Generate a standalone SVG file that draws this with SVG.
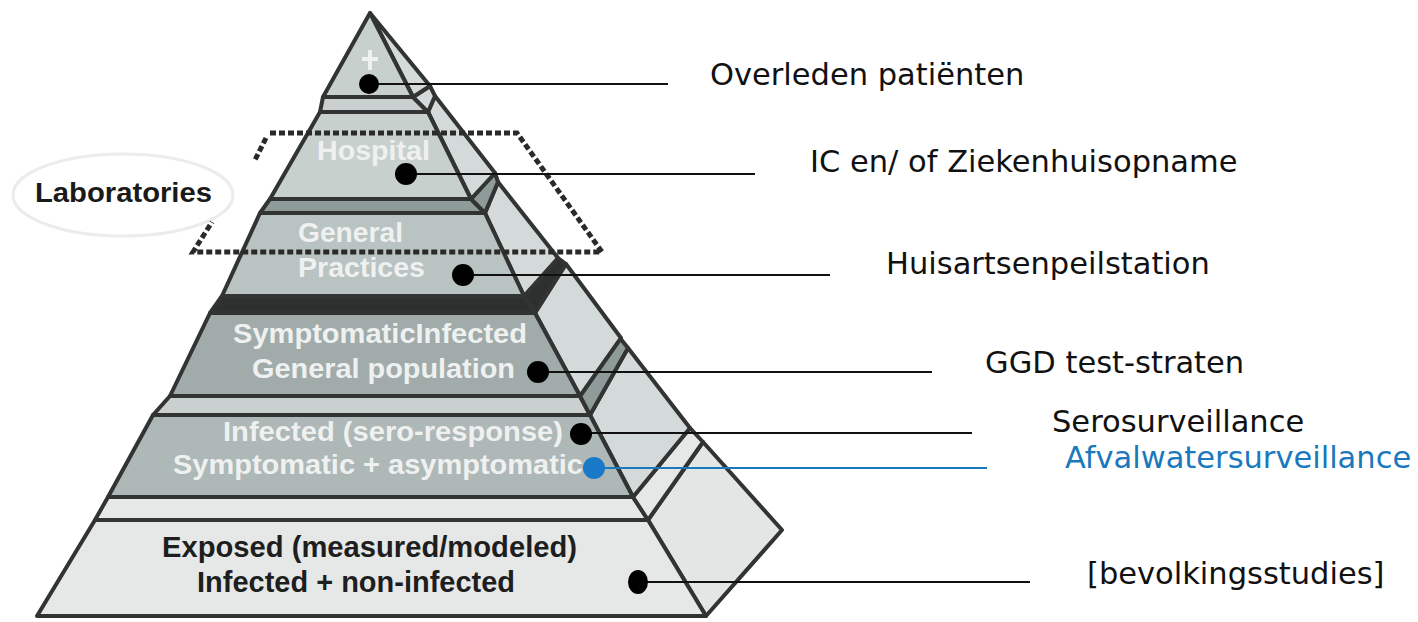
<svg xmlns="http://www.w3.org/2000/svg" width="1418" height="622" viewBox="0 0 1418 622">
<style>
.f{stroke:#323434;stroke-width:4;stroke-linejoin:round}
.lt{fill:#c8d0ce}
.gp{fill:#b9c3c1}
.sy{fill:#a0abaa}
.inf{fill:#aeb8b7}
.ex{fill:#e5e8e7}
.sd{fill:#d4dad9}
.sd2{fill:#e2e6e5}
.dk{fill:#2e3030}
.md{fill:#8f9b99}
.ls{fill:#c9d0cf}
.pt{font-family:"Liberation Sans",Arial,sans-serif;font-weight:bold;font-size:28px;fill:#eff1f1}
.pd{font-family:"Liberation Sans",Arial,sans-serif;font-weight:bold;font-size:29px;fill:#1e1e1e}
.rl{font-family:"DejaVu Sans",Verdana,sans-serif;font-size:30.5px;fill:#111}
.ln{stroke:#111;stroke-width:2;fill:none}
.dot{fill:#000}
</style>
<rect width="1418" height="622" fill="#fff"/>
<g id="laboratories">
<ellipse cx="123" cy="195" rx="110" ry="41" fill="#fff" stroke="#ececec" stroke-width="3"/>
<text x="35" y="202" font-family="Liberation Sans, Arial, sans-serif" font-weight="bold" font-size="28" fill="#1a1a1a" textLength="177" lengthAdjust="spacingAndGlyphs">Laboratories</text>
</g>
<g id="tier-exposed">
<polygon class="f sd2" points="648,520 703,442 782,530 706,616"/>
<polygon class="f ex" points="95,520 648,520 706,616 37,616"/>
<text class="pd" x="162" y="557" textLength="415" lengthAdjust="spacingAndGlyphs">Exposed (measured/modeled)</text>
<text class="pd" x="197" y="592" textLength="318" lengthAdjust="spacingAndGlyphs">Infected + non-infected</text>
</g>
<g id="slab-5">
<polygon class="f ex" points="108,497 633,497 648,520 95,520"/>
<polygon class="f ex" points="633,497 690,428 703,442 648,520"/>
</g>
<g id="tier-infected">
<polygon class="f sd" points="590,415 628,348 690,428 633,497"/>
<polygon class="f inf" points="153,415 590,415 633,497 108,497"/>
<text class="pt" x="223" y="441" textLength="340" lengthAdjust="spacingAndGlyphs">Infected (sero-response)</text>
<text class="pt" x="173" y="474" textLength="410" lengthAdjust="spacingAndGlyphs">Symptomatic + asymptomatic</text>
</g>
<g id="slab-4">
<polygon class="f ls" points="170,396 580,396 590,415 153,415"/>
<polygon class="f md" points="580,396 620,338 628,348 590,415"/>
</g>
<g id="tier-symptomatic">
<polygon class="f sd" points="535,313 566,264 621,338 580,396"/>
<polygon class="f sy" points="210,313 535,313 580,396 170,396"/>
<text class="pt" x="233" y="343" textLength="294" lengthAdjust="spacingAndGlyphs">SymptomaticInfected</text>
<text class="pt" x="252" y="378" textLength="263" lengthAdjust="spacingAndGlyphs">General population</text>
</g>
<g id="slab-3">
<polygon class="f dk" points="222,296 524,296 535,313 210,313"/>
<polygon class="f dk" points="524,296 558,258 566,264 535,313"/>
</g>
<g id="tier-general">
<polygon class="f sd" points="485,213 498,182 558,258 524,296"/>
<polygon class="f gp" points="260,213 485,213 524,296 222,296"/>
<text class="pt" x="298" y="242" textLength="105" lengthAdjust="spacingAndGlyphs">General</text>
<text class="pt" x="298" y="277" textLength="127" lengthAdjust="spacingAndGlyphs">Practices</text>
</g>
<g id="slab-2">
<polygon class="f md" points="270,199 471,199 485,213 260,213"/>
<polygon class="f md" points="471,199 495,173 498,182 485,213"/>
</g>
<g id="tier-hospital">
<polygon class="f sd" points="428,112 435,96 495,173 471,199"/>
<polygon class="f lt" points="320,112 428,112 471,199 270,199"/>
<text class="pt" x="317" y="160" textLength="113" lengthAdjust="spacingAndGlyphs">Hospital</text>
</g>
<g id="slab-1">
<polygon class="f ls" points="323,97 413,97 428,112 320,112"/>
<polygon class="f sd" points="413,97 430,86 435,96 428,112"/>
</g>
<g id="tier-top">
<polygon class="f sd" points="370,13 430,86 413,97"/>
<polygon class="f lt" points="370,13 413,97 323,97"/>
<path d="M370,50 V70 M362,59 H378" stroke="#eff1f1" stroke-width="4" fill="none"/>
</g>
<g id="lab-outline">
<path d="M270,133 L517,133 L602,252 L193,252 L212,222 M266,138 L255,160" fill="none" stroke="#2a2a2a" stroke-width="5" stroke-dasharray="6 3"/>
</g>
<g id="connectors">
<line class="ln" x1="369" y1="84" x2="668" y2="84"/>
<line class="ln" x1="406" y1="174" x2="755" y2="174"/>
<line class="ln" x1="463" y1="275" x2="830" y2="275"/>
<line class="ln" x1="538" y1="372" x2="932" y2="372"/>
<line class="ln" x1="580" y1="433" x2="972" y2="433"/>
<line x1="594" y1="468" x2="987" y2="468" stroke="#1a78bd" stroke-width="2"/>
<line class="ln" x1="638" y1="582" x2="1030" y2="582"/>
<circle class="dot" cx="369" cy="84" r="10"/>
<circle class="dot" cx="406" cy="174" r="11"/>
<circle class="dot" cx="463" cy="275" r="11"/>
<circle class="dot" cx="538" cy="372" r="11"/>
<circle class="dot" cx="581" cy="434" r="11"/>
<circle cx="594" cy="468" r="11" fill="#1a78c8"/>
<ellipse class="dot" cx="638" cy="582" rx="10" ry="12"/>
</g>
<g id="labels">
<text class="rl" x="710" y="85">Overleden patiënten</text>
<text class="rl" x="810" y="172">IC en/ of Ziekenhuisopname</text>
<text class="rl" x="886" y="274">Huisartsenpeilstation</text>
<text class="rl" x="985" y="373">GGD test-straten</text>
<text class="rl" x="1052" y="432">Serosurveillance</text>
<text class="rl" x="1065" y="468" style="fill:#1a78bd">Afvalwatersurveillance</text>
<text class="rl" x="1087" y="584">[bevolkingsstudies]</text>
</g>
</svg>
